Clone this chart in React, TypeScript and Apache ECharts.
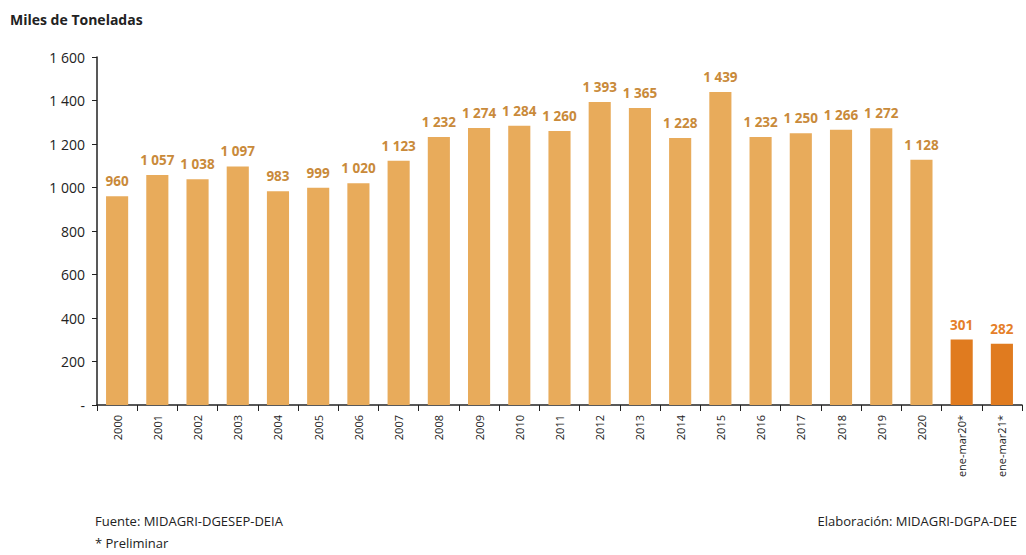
import React, { useEffect, useRef } from "react";
import * as echarts from "echarts";

const categories = ["2000","2001","2002","2003","2004","2005","2006","2007","2008","2009","2010","2011","2012","2013","2014","2015","2016","2017","2018","2019","2020","ene-mar20*","ene-mar21*"];
const values = [960,1057,1038,1097,983,999,1020,1123,1232,1274,1284,1260,1393,1365,1228,1439,1232,1250,1266,1272,1128,301,282];
const highlighted = [false,false,false,false,false,false,false,false,false,false,false,false,false,false,false,false,false,false,false,false,false,true,true];

const fmt = (v: number) => (v === 0 ? "-" : String(v).replace(/\B(?=(\d{3})+(?!\d))/g, " "));
const FONT = "'Liberation Sans Narrow', 'Open Sans', sans-serif";

export default function App() {
  const ref = useRef<HTMLDivElement>(null);
  useEffect(() => {
    const chart = echarts.init(ref.current!, null, { renderer: "svg" });
    chart.setOption({
      animation: false,
      backgroundColor: "#ffffff",
      grid: { left: 97, right: 4, top: 57, bottom: 150, containLabel: false },
      xAxis: {
        type: "category",
        data: categories,
        axisLine: { show: true, lineStyle: { color: "#222", width: 1.5 } },
        axisTick: { show: true, alignWithLabel: false, length: 6, lineStyle: { color: "#222" } },
        axisLabel: { rotate: 90, color: "#222", fontSize: 11, fontFamily: FONT, margin: 10, interval: 0 },
      },
      yAxis: {
        type: "value",
        min: 0,
        max: 1600,
        interval: 200,
        splitLine: { show: false },
        axisLine: { show: true, lineStyle: { color: "#222", width: 1.5 } },
        axisTick: { show: true, length: 5, lineStyle: { color: "#222" } },
        axisLabel: { color: "#222", fontSize: 14, fontFamily: FONT, margin: 12, formatter: (v: number) => fmt(v) },
      },
      series: [
        {
          type: "bar",
          barWidth: "55%",
          data: values.map((v, i) => ({
            value: v,
            itemStyle: { color: highlighted[i] ? "#E07B1F" : "#E8AB5B" },
            label: { color: highlighted[i] ? "#E57F2A" : "#C98A3A" },
          })),
          label: {
            show: true,
            position: "top",
            distance: 8,
            fontSize: 13.5,
            fontWeight: "bold",
            fontFamily: FONT,
            formatter: (p: any) => fmt(p.value),
          },
        },
      ],
      graphic: [
        { type: "text", left: 10, top: 12, style: { text: "Miles de Toneladas", font: `bold 14px ${FONT}`, fill: "#222" } },
        { type: "text", left: 95, top: 514, style: { text: "Fuente: MIDAGRI-DGESEP-DEIA", font: `13px ${FONT}`, fill: "#222" } },
        { type: "text", left: 95, top: 536, style: { text: "* Preliminar", font: `13px ${FONT}`, fill: "#222" } },
        { type: "text", right: 9, top: 514, style: { text: "Elaboración: MIDAGRI-DGPA-DEE", font: `13px ${FONT}`, fill: "#222" } },
      ],
    });
    return () => chart.dispose();
  }, []);
  return <div ref={ref} style={{ position: "absolute", left: 0, top: 0, width: 1026, height: 555 }} />;
}
